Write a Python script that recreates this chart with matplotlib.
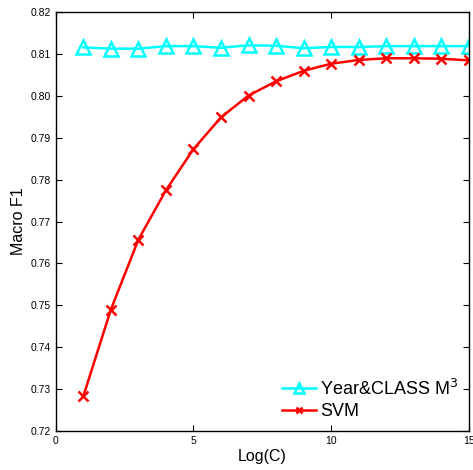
import matplotlib
matplotlib.use('Agg')
from matplotlib import pyplot as plt

plt.rcParams['font.family'] = ['Liberation Sans', 'DejaVu Sans']

logc = [1, 2, 3, 4, 5, 6, 7, 8, 9, 10, 11, 12, 13, 14, 15]
f1_m3 = [0.8116, 0.8113, 0.8113, 0.8119, 0.8119, 0.8115, 0.8121, 0.8120,
         0.8114, 0.8117, 0.8117, 0.8119, 0.8119, 0.8119, 0.8119]
f1_svm = [0.7283, 0.7490, 0.7657, 0.7775, 0.7873, 0.7949, 0.8001, 0.8035,
          0.8060, 0.8077, 0.8086, 0.8090, 0.8090, 0.8089, 0.8085]
xticks = [0, 5, 10, 15]
yticks = [0.72, 0.73, 0.74, 0.75, 0.76, 0.77, 0.78, 0.79, 0.80, 0.81, 0.82]

fig = plt.figure(figsize=(4.73, 4.70), dpi=100)
ax = fig.add_axes([0.118, 0.083, 0.873, 0.891])

ax.plot(logc, f1_m3, color='cyan', lw=1.8, marker='^', ms=10,
        mfc='none', mec='cyan', mew=1.8, label='Year&CLASS M$^3$')
ax.plot(logc, f1_svm, color='red', lw=1.8, marker='x', ms=7,
        mew=1.8, label='SVM')

ax.set_xlim(0, 15)
ax.set_ylim(0.72, 0.82)
ax.set_xticks(xticks)
ax.set_yticks(yticks)
ax.set_xticklabels([str(t) for t in xticks])
ax.set_yticklabels(['%.2f' % t for t in yticks])
ax.tick_params(direction='in', top=True, right=True, labelsize=7.5, length=4)
for s in ax.spines.values():
    s.set_linewidth(1.0)

ax.set_xlabel('Log(C)', fontsize=11.5, labelpad=2)
ax.set_ylabel('Macro F1', fontsize=11.5, labelpad=3)

ax.legend(loc='lower right', frameon=False, fontsize=13, handlelength=1.9,
          handletextpad=0.2, borderaxespad=0.2, labelspacing=0.25,
          markerscale=0.7)

fig.savefig('out.png', dpi=100)
